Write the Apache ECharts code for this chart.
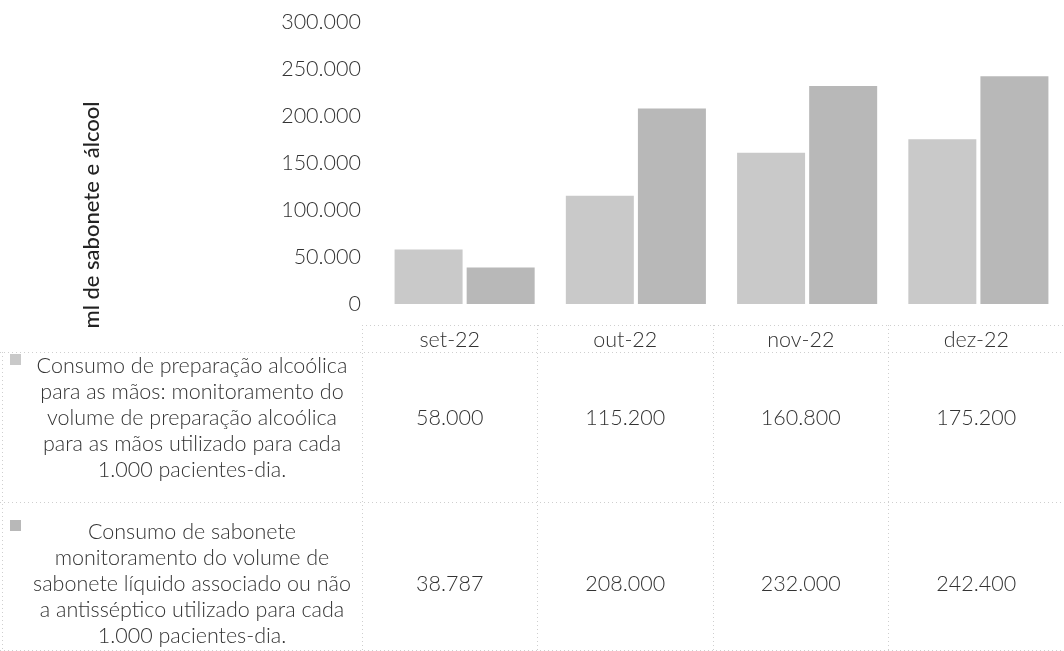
<!DOCTYPE html>
<html>
<head>
<meta charset="utf-8">
<script src="https://cdn.jsdelivr.net/npm/echarts@6/dist/echarts.min.js"></script>
<style>
  html, body { margin: 0; padding: 0; background: #ffffff; }
  #chart { width: 1064px; height: 651px; }
</style>
</head>
<body>
<div id="chart"></div>
<script>
// Monthly consumption, ml per 1.000 patient-days
const months = ['set-22', 'out-22', 'nov-22', 'dez-22'];
const alcoholUse = [58000, 115200, 160800, 175200];
const soapUse = [38787, 208000, 232000, 242400];

// Value axis ticks
const yMin = 0;
const yMax = 300000;
const yStep = 50000;

const axisTitle = 'ml de sabonete e álcool';
const alcoholName = [
  'Consumo de preparação alcoólica',
  'para as mãos: monitoramento do',
  'volume de preparação alcoólica',
  'para as mãos utilizado para cada',
  '1.000 pacientes-dia.'
];
const soapName = [
  'Consumo de sabonete',
  'monitoramento do volume de',
  'sabonete líquido associado ou não',
  'a antisséptico utilizado para cada',
  '1.000 pacientes-dia.'
];

const alcoholColor = '#c9c9c9';
const soapColor = '#b8b8b8';
const textColor = '#333333';
const FONT = 'Lato, "Open Sans", sans-serif';
const FS = 21.5;

// pt-BR thousands separator
const fmt = v => String(v).replace(/\B(?=(\d{3})+(?!\d))/g, '.');

const chart = echarts.init(document.getElementById('chart'), null, { renderer: 'canvas' });

chart.setOption({
  animation: false,
  backgroundColor: '#ffffff',
  textStyle: { fontFamily: FONT },
  grid: [
    { left: 379, top: 22, width: 696, height: 282 },   // bars
    { left: 362, top: 325, width: 711, height: 325 }   // data table
  ],
  xAxis: [
    {
      type: 'category', gridIndex: 0, data: months,
      axisLine: { show: false }, axisTick: { show: false },
      axisLabel: { show: false }, splitLine: { show: false }
    },
    {
      type: 'category', gridIndex: 1, data: months, position: 'top',
      axisLine: { show: false }, axisTick: { show: false },
      axisLabel: {
        inside: true, margin: 4, color: textColor,
        fontFamily: FONT, fontSize: FS, fontWeight: 300
      },
      splitLine: { show: true, lineStyle: { color: '#cfcfcf', type: [1, 3], width: 1 } }
    }
  ],
  yAxis: [
    {
      type: 'value', gridIndex: 0, min: yMin, max: yMax, interval: yStep,
      axisLine: { show: false }, axisTick: { show: false },
      splitLine: { show: false },
      axisLabel: {
        formatter: fmt, margin: 18, color: textColor,
        fontFamily: FONT, fontSize: FS, fontWeight: 300
      }
    },
    {
      type: 'value', gridIndex: 1, min: 0, max: 1, show: false
    }
  ],
  series: [
    {
      name: alcoholName.join(' '), type: 'bar', xAxisIndex: 0, yAxisIndex: 0,
      data: alcoholUse, barWidth: 68, barGap: '6%',
      itemStyle: { color: alcoholColor }
    },
    {
      name: soapName.join(' '), type: 'bar', xAxisIndex: 0, yAxisIndex: 0,
      data: soapUse, barWidth: 68, barGap: '6%',
      itemStyle: { color: soapColor }
    }
  ]
});

// Data table: row titles, values and dotted borders
const tableLeft = 362;
const tableRight = 1075;
const rowTop = [325, 352, 502, 650];
const lineStyle = { stroke: '#cfcfcf', lineWidth: 1, lineDash: [1, 3] };
const graphics = [];

function hLine(x1, x2, y) {
  graphics.push({ type: 'line', shape: { x1: x1, y1: y + 0.5, x2: x2, y2: y + 0.5 }, style: lineStyle, silent: true });
}
function vLine(x, y1, y2) {
  graphics.push({ type: 'line', shape: { x1: x + 0.5, y1: y1, x2: x + 0.5, y2: y2 }, style: lineStyle, silent: true });
}
hLine(tableLeft, tableRight, rowTop[0]);
hLine(0, tableRight, rowTop[1]);
hLine(0, tableRight, rowTop[2]);
hLine(0, tableRight, rowTop[3]);
vLine(2, rowTop[1], rowTop[3]);

const lineGap = 26;
function rowBlock(lines, firstY, keyColor) {
  graphics.push({
    type: 'rect', shape: { x: 10, y: firstY - 12, width: 11, height: 11 },
    style: { fill: keyColor }, silent: true
  });
  lines.forEach((t, i) => {
    graphics.push({
      type: 'text', x: 192, y: firstY + i * lineGap, silent: true,
      style: {
        text: t, fill: textColor, font: '300 ' + FS + 'px ' + FONT,
        textAlign: 'center', textVerticalAlign: 'middle'
      }
    });
  });
}
rowBlock(alcoholName, 366, alcoholColor);
rowBlock(soapName, 532, soapColor);

function valueRow(values, y) {
  values.forEach((v, i) => {
    const x = chart.convertToPixel({ xAxisIndex: 1 }, months[i]);
    graphics.push({
      type: 'text', x: x, y: y, silent: true,
      style: {
        text: fmt(v), fill: textColor, font: '300 ' + FS + 'px ' + FONT,
        textAlign: 'center', textVerticalAlign: 'middle'
      }
    });
  });
}
valueRow(alcoholUse, 366 + 2 * lineGap);
valueRow(soapUse, 532 + 2 * lineGap);

// Vertical axis title
graphics.push({
  type: 'text', x: 92, y: 215, rotation: Math.PI / 2, silent: true,
  style: {
    text: axisTitle, fill: '#222222', font: '500 22px ' + FONT,
    textAlign: 'center', textVerticalAlign: 'middle'
  }
});

chart.setOption({ graphic: graphics });
</script>
</body>
</html>
